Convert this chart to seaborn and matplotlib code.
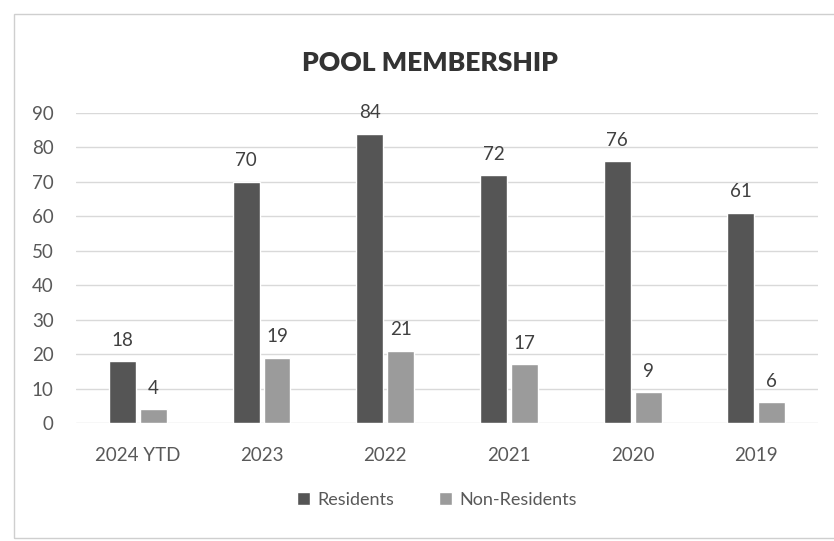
import matplotlib
matplotlib.use("Agg")
import matplotlib.pyplot as plt
from matplotlib.patches import Rectangle
import pandas as pd
import seaborn as sns

# data
years        = ["2024 YTD", "2023", "2022", "2021", "2020", "2019"]
residents    = [18, 70, 84, 72, 76, 61]
nonresidents = [4, 19, 21, 17, 9, 6]
series_names = ["Residents", "Non-Residents"]
y_ticks      = [0, 10, 20, 30, 40, 50, 60, 70, 80, 90]

df = pd.DataFrame({
    "year": years * 2,
    "count": residents + nonresidents,
    "type": [series_names[0]] * len(years) + [series_names[1]] * len(years),
})

sns.set_style("white")
plt.rcParams["font.family"] = ["Lato", "DejaVu Sans"]

text_grey = "#595959"

fig = plt.figure(figsize=(8.34, 5.41), dpi=100)
ax = fig.add_axes([0.0911, 0.2181, 0.8899, 0.5730])

sns.barplot(
    data=df, x="year", y="count", hue="type",
    palette=["#555555", "#9b9b9b"],
    width=0.5, gap=0.13, saturation=1, ax=ax,
)

for cont in ax.containers:
    ax.bar_label(cont, padding=9, fontsize=13.5, color="#404040")

ax.set_ylim(0, 90)
ax.set_yticks(y_ticks)
ax.yaxis.grid(True, color="#d9d9d9", linewidth=1)
ax.set_axisbelow(True)
for s in ax.spines.values():
    s.set_visible(False)
ax.set_xlabel("")
ax.set_ylabel("")
ax.tick_params(axis="y", length=0, pad=16, labelsize=13.5, labelcolor=text_grey)
ax.tick_params(axis="x", length=0, pad=17, labelsize=13.5, labelcolor=text_grey)

ax.legend_.remove()
handles, labels = ax.get_legend_handles_labels()
fig.legend(
    handles, labels, loc="center", bbox_to_anchor=(0.524, 0.076), ncol=2,
    frameon=False, fontsize=13, labelcolor=text_grey,
    handlelength=0.7, handleheight=0.7, handletextpad=0.4, columnspacing=2.5,
)

fig.text(0.516, 0.883, "POOL MEMBERSHIP", ha="center", va="center",
         fontsize=19, fontweight="heavy", color="#333333")

# light chart frame like the scanned Excel box (right side runs off the page)
fig.patches.append(Rectangle((0.017, 0.006), 1.1, 0.968, transform=fig.transFigure,
                             fill=False, edgecolor="#cfcfcf", linewidth=1))

fig.savefig("out.png", dpi=100, facecolor="white")
